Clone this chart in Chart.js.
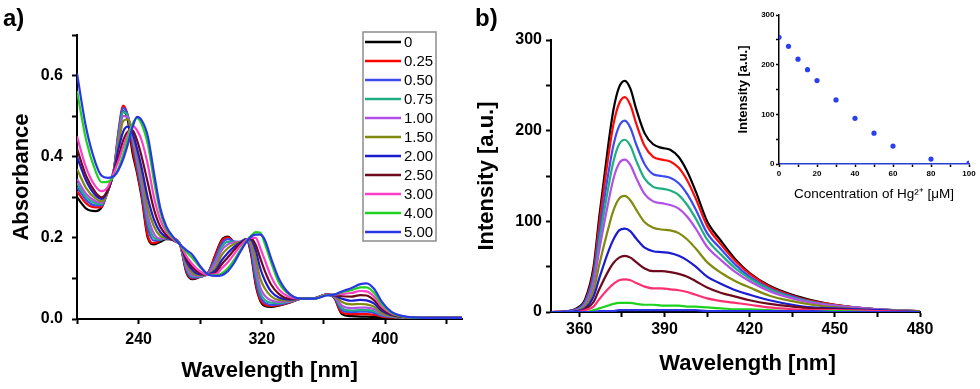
<!DOCTYPE html>
<html>
<head>
<meta charset="utf-8">
<script src="https://cdn.jsdelivr.net/npm/chart.js@4"></script>
<style>
  body { margin: 0; background: #fff; }
  #wrap { position: relative; width: 980px; height: 389px; background: #fff; overflow: hidden; }
  canvas { position: absolute; top: 0; }
  .plabel { position: absolute; top: 6px; font: bold 24px "Liberation Sans", Arial, sans-serif; color: #000; line-height: 1; }
</style>
</head>
<body>
<div id="wrap">
  <canvas id="absChart" width="480" height="389" style="left:0"></canvas>
  <canvas id="emChart" width="510" height="389" style="left:470px"></canvas>
  <canvas id="insetChart" width="255" height="210" style="left:725px"></canvas>
  <div class="plabel" style="left:3px">a)</div>
  <div class="plabel" style="left:475px">b)</div>
</div>
<script>
// Hg2+ equivalents, one curve each
const concLabels = ['0', '0.25', '0.50', '0.75', '1.00', '1.50', '2.00', '2.50', '3.00', '4.00', '5.00'];

// a) absorbance spectra
const absWavelength = [200, 206, 212, 216, 220, 224, 227, 230, 233, 236, 239, 242, 246, 250, 254, 258, 263, 267, 271, 275, 280, 285, 290, 294, 298, 302, 306, 310, 313, 316, 319, 322, 326, 331, 338, 346, 354, 362, 367, 372, 378, 384, 388, 393, 398, 404, 412, 425, 450];
const absC000 = [.300, .272, .266, .275, .315, .368, .455, .512, .490, .410, .360, .300, .200, .184, .190, .197, .196, .183, .115, .098, .104, .113, .160, .195, .203, .190, .187, .197, .160, .085, .045, .032, .030, .033, .040, .050, .050, .060, .052, .012, .007, .006, .006, .005, .004, .003, .003, .002, .002];
const absC025 = [.315, .285, .275, .277, .318, .370, .465, .526, .500, .422, .365, .305, .205, .187, .194, .200, .198, .183, .118, .100, .104, .113, .158, .192, .201, .190, .188, .197, .165, .090, .048, .035, .032, .034, .041, .050, .051, .060, .053, .016, .012, .012, .012, .010, .006, .004, .003, .003, .003];
const absC050 = [.325, .293, .280, .280, .316, .368, .460, .520, .502, .440, .378, .318, .225, .193, .195, .199, .197, .183, .122, .102, .104, .112, .150, .185, .197, .191, .189, .197, .172, .100, .055, .040, .035, .036, .042, .050, .051, .060, .054, .022, .017, .018, .018, .015, .008, .005, .003, .003, .003];
const absC075 = [.335, .300, .285, .283, .315, .368, .450, .510, .500, .448, .388, .328, .240, .200, .196, .199, .196, .183, .126, .105, .105, .111, .143, .177, .190, .190, .190, .197, .180, .115, .065, .047, .040, .039, .043, .050, .051, .060, .055, .027, .021, .022, .022, .019, .010, .006, .004, .003, .003];
const absC100 = [.345, .308, .290, .286, .314, .368, .440, .500, .497, .455, .398, .340, .255, .210, .198, .199, .195, .183, .130, .108, .106, .111, .138, .170, .184, .189, .191, .197, .186, .130, .078, .057, .046, .042, .044, .050, .051, .060, .056, .033, .027, .028, .028, .024, .012, .007, .004, .003, .003];
const absC150 = [.370, .322, .297, .290, .314, .368, .430, .488, .492, .462, .412, .358, .275, .228, .205, .200, .194, .183, .137, .113, .108, .110, .128, .158, .175, .185, .190, .197, .192, .150, .100, .075, .056, .047, .046, .050, .051, .060, .057, .042, .036, .037, .036, .030, .015, .008, .004, .003, .003];
const absC200 = [.400, .340, .305, .296, .316, .365, .420, .462, .474, .458, .420, .372, .298, .245, .215, .202, .193, .183, .143, .120, .110, .110, .120, .145, .163, .178, .188, .197, .196, .170, .125, .095, .068, .053, .048, .050, .051, .060, .058, .050, .045, .047, .046, .038, .020, .010, .005, .003, .003];
const absC250 = [.420, .352, .312, .300, .318, .362, .400, .440, .462, .465, .440, .400, .335, .270, .228, .207, .193, .183, .150, .127, .113, .109, .114, .135, .152, .170, .185, .195, .198, .183, .150, .118, .085, .062, .050, .050, .051, .060, .059, .056, .055, .059, .058, .046, .025, .012, .005, .003, .003];
const absC300 = [.450, .372, .327, .315, .325, .362, .390, .425, .455, .476, .465, .440, .380, .300, .245, .215, .195, .183, .155, .135, .117, .109, .110, .125, .140, .160, .180, .195, .200, .200, .175, .145, .105, .073, .054, .050, .051, .060, .060, .062, .064, .069, .068, .055, .030, .014, .006, .003, .003];
const absC400 = [.562, .440, .365, .337, .338, .352, .372, .405, .445, .480, .495, .480, .430, .340, .265, .222, .198, .183, .165, .150, .127, .110, .107, .112, .125, .145, .170, .192, .205, .214, .213, .185, .140, .090, .060, .050, .050, .059, .060, .066, .071, .078, .078, .064, .036, .016, .006, .003, .003];
const absC500 = [.605, .470, .385, .353, .348, .352, .368, .394, .430, .472, .498, .490, .450, .360, .275, .228, .200, .183, .170, .158, .130, .110, .106, .108, .118, .138, .165, .190, .203, .208, .208, .195, .150, .100, .062, .050, .050, .058, .060, .068, .076, .086, .088, .074, .042, .018, .007, .003, .003];
const absSeries = [absC000, absC025, absC050, absC075, absC100, absC150, absC200, absC250, absC300, absC400, absC500];

// b) emission spectra
const emWavelength = [350, 356, 359, 362, 365, 367, 370, 372, 374, 376, 378, 380, 383, 386, 389, 392, 395, 398, 401, 405, 410, 415, 420, 427, 435, 442, 450, 465, 480];
const emC000 = [0, 1, 4, 14, 50, 105, 180, 223, 248, 255, 246, 224, 197, 185, 181, 179, 171, 155, 133, 100, 78, 58, 43, 29, 19, 13, 8, 3, 1];
const emC025 = [0, 1, 3, 12, 45, 97, 167, 207, 230, 237, 228, 208, 183, 171, 168, 166, 159, 145, 125, 95, 74, 56, 42, 28, 18, 12, 8, 3, 1];
const emC050 = [0, 1, 3, 11, 40, 86, 149, 184, 205, 211, 203, 185, 163, 152, 150, 148, 142, 130, 113, 87, 69, 52, 39, 26, 17, 11, 7, 3, 1];
const emC075 = [0, 0, 2, 9, 35, 77, 134, 166, 185, 190, 183, 167, 147, 138, 136, 134, 129, 118, 103, 80, 63, 48, 37, 25, 16, 11, 7, 3, 1];
const emC100 = [0, 0, 2, 8, 31, 68, 118, 147, 164, 168, 162, 148, 130, 122, 120, 118, 114, 105, 92, 72, 57, 44, 34, 23, 15, 10, 7, 3, 1];
const emC150 = [0, 0, 1, 6, 23, 52, 90, 112, 125, 128, 123, 113, 99, 93, 91, 90, 87, 80, 70, 55, 43, 34, 27, 18, 12, 8, 5, 2, 1];
const emC200 = [0, 0, 1, 4, 17, 37, 65, 80, 90, 92, 89, 81, 71, 67, 66, 65, 62, 57, 50, 39, 31, 24, 19, 13, 8, 5, 4, 2, 0];
const emC250 = [0, 0, 0, 3, 11, 25, 44, 54, 60, 62, 60, 55, 48, 45, 45, 44, 42, 39, 34, 27, 21, 17, 13, 9, 6, 4, 3, 1, 0];
const emC300 = [0, 0, 0, 2, 6, 14, 25, 31, 35, 36, 35, 32, 28, 26, 26, 25, 24, 22, 19, 15, 12, 10, 8, 5, 3, 2, 2, 1, 0];
const emC400 = [0, 0, 0, 0, 2, 4, 7, 9, 10, 10, 10, 9, 8, 8, 7, 7, 7, 6, 6, 5, 4, 3, 3, 2, 1, 1, 1, 0, 0];
const emC500 = [0, 0, 0, 0, 0, 1, 1, 1, 2, 2, 2, 2, 2, 2, 2, 2, 2, 2, 2, 1, 1, 1, 1, 1, 1, 1, 0, 0, 0];
const emSeries = [emC000, emC025, emC050, emC075, emC100, emC150, emC200, emC250, emC300, emC400, emC500];

// inset: peak intensity vs Hg2+ concentration
const hgConc = [0, 5, 10, 15, 20, 30, 40, 50, 60, 80, 100];
const hgIntensity = [255, 237, 211, 190, 168, 129, 92, 62, 36, 10, 2];

// tick positions and which ones carry a label
const absXTicks = [200, 240, 280, 320, 360, 400, 440];
const absXLabeled = [240, 320, 400];
const absYTicks = [0, 0.1, 0.2, 0.3, 0.4, 0.5, 0.6, 0.7];
const absYLabeled = [0, 0.2, 0.4, 0.6];
const emXTicks = [360, 375, 390, 405, 420, 435, 450, 465, 480];
const emXLabeled = [360, 390, 420, 450, 480];
const emYTicks = [0, 50, 100, 150, 200, 250, 300];
const emYLabeled = [0, 100, 200, 300];
const inXTicks = [0, 10, 20, 30, 40, 50, 60, 70, 80, 90, 100];
const inXLabeled = [0, 20, 40, 60, 80, 100];
const inYTicks = [0, 50, 100, 150, 200, 250, 300];
const inYLabeled = [0, 100, 200, 300];

const absColors = ['#000000', '#ff0000', '#3b4bf0', '#1fae82', '#b24fe6', '#7f8a0e', '#1b1bd0', '#6e0a1e', '#ff3dc8', '#1fd21f', '#2a36e6'];
const emColors = ['#000000', '#ff0a0a', '#3b4bf0', '#1fae82', '#b24fe6', '#7f8a0e', '#1b1bd0', '#6e0a1e', '#ff3070', '#1fd21f', '#2a36e6'];

const FONT = '"Liberation Sans", Arial, Helvetica, sans-serif';

// one axis in the Origin look: outward ticks, only some ticks labelled
function axis(o) {
    return {
        type: 'linear',
        min: o.min,
        max: o.max,
        afterBuildTicks: s => { s.ticks = o.ticks.map(v => ({ value: v })); },
        afterFit: s => { if (o.horizontal) s.height = o.box; else s.width = o.box; },
        border: { display: true, color: o.borderColor || '#000', width: o.lw || 2 },
        grid: { display: true, drawOnChartArea: false, drawTicks: true, tickLength: o.tl, tickWidth: o.lw || 2, tickColor: '#000' },
        ticks: {
            autoSkip: false, maxRotation: 0, padding: o.pad, color: '#000',
            font: { family: FONT, size: o.size, weight: 'bold' },
            callback: v => o.labeled.includes(v) ? o.fmt(v) : ''
        },
        title: {
            display: o.title !== null, text: o.title || '', color: '#000',
            font: { family: FONT, size: o.titleSize, weight: o.titleWeight || 'bold' },
            padding: o.titlePad
        }
    };
}

function lineSets(xs, series, colors) {
    const n = series.length;
    return series.map((vals, i) => ({
        label: concLabels[i],
        data: xs.map((x, j) => ({ x: x, y: vals[j] })),
        borderColor: colors[i],
        backgroundColor: colors[i],
        borderWidth: 2.2,
        pointRadius: 0,
        cubicInterpolationMode: 'monotone',
        fill: false,
        order: n - i
    }));
}

// legend box drawn inside panel a
const legendBox = {
    id: 'legendBox',
    afterDraw(chart) {
        const ctx = chart.ctx;
        const x0 = 363, y0 = 32, w = 73, h = 209, step = 19;
        ctx.save();
        ctx.fillStyle = '#fff';
        ctx.fillRect(x0, y0, w, h);
        ctx.strokeStyle = '#8c8c8c';
        ctx.lineWidth = 1.5;
        ctx.strokeRect(x0, y0, w, h);
        ctx.font = '15px ' + FONT;
        ctx.textBaseline = 'middle';
        chart.data.datasets.forEach((ds, i) => {
            const y = y0 + 10 + i * step;
            ctx.strokeStyle = ds.borderColor;
            ctx.lineWidth = 2.5;
            ctx.beginPath();
            ctx.moveTo(x0 + 2, y);
            ctx.lineTo(x0 + 38, y);
            ctx.stroke();
            ctx.fillStyle = '#000';
            ctx.fillText(ds.label, x0 + 41, y + 1);
        });
        ctx.restore();
    }
};

// x title of panel b sits a little right of the plot centre in the original
const offsetTitle = {
    id: 'offsetTitle',
    afterDraw(chart, args, opts) {
        const { ctx, chartArea } = chart;
        ctx.save();
        ctx.font = 'bold 22px ' + FONT;
        ctx.fillStyle = '#000';
        ctx.textAlign = 'center';
        ctx.textBaseline = 'middle';
        ctx.fillText(opts.text, (chartArea.left + chartArea.right) / 2 + opts.dx, opts.y);
        ctx.restore();
    }
};

const common = {
    responsive: false,
    animation: false,
    events: [],
    plugins: { legend: { display: false }, tooltip: { enabled: false } }
};

new Chart(document.getElementById('absChart'), {
    type: 'line',
    data: { datasets: lineSets(absWavelength, absSeries, absColors) },
    options: Object.assign({}, common, {
        layout: { padding: { top: 35, right: 18, left: 0, bottom: 0 } },
        scales: {
            x: axis({ horizontal: true, min: 200, max: 450, ticks: absXTicks, labeled: absXLabeled, fmt: v => String(v),
                box: 70, tl: 5, pad: 6, size: 16, title: 'Wavelength [nm]', titleSize: 22, titlePad: { top: 0, bottom: 5 } }),
            y: axis({ min: 0, max: 0.7, ticks: absYTicks, labeled: absYLabeled, fmt: v => v.toFixed(1),
                box: 77, tl: 5, pad: 9, size: 16, title: 'Absorbance', titleSize: 22, titlePad: { top: 9, bottom: 0 } })
        }
    }),
    plugins: [legendBox]
});

new Chart(document.getElementById('emChart'), {
    type: 'line',
    data: { datasets: lineSets(emWavelength, emSeries, emColors) },
    options: Object.assign({}, common, {
        layout: { padding: { top: 40, right: 60, left: 0, bottom: 0 } },
        plugins: {
            legend: { display: false },
            tooltip: { enabled: false },
            offsetTitle: { text: 'Wavelength [nm]', dx: 12, y: 364 }
        },
        scales: {
            x: axis({ horizontal: true, min: 350, max: 480, ticks: emXTicks, labeled: emXLabeled, fmt: v => String(v),
                box: 77, tl: 5, pad: 3, size: 16, title: null, titleSize: 22, titlePad: 0 }),
            y: axis({ min: 0, max: 300, ticks: emYTicks, labeled: emYLabeled, fmt: v => String(v),
                box: 81, tl: 5, pad: 4, size: 16, title: 'Intensity [a.u.]', titleSize: 22, titlePad: { top: 4, bottom: 0 } })
        }
    }),
    plugins: [offsetTitle]
});

new Chart(document.getElementById('insetChart'), {
    type: 'scatter',
    data: {
        datasets: [{
            label: 'Intensity',
            data: hgConc.map((c, i) => ({ x: c, y: hgIntensity[i] })),
            showLine: false,
            pointRadius: 2.6,
            pointBorderWidth: 0,
            backgroundColor: '#2a40f0',
            borderColor: '#2a40f0'
        }]
    },
    options: Object.assign({}, common, {
        layout: { padding: { top: 15, right: 11, left: 0, bottom: 0 } },
        scales: {
            x: axis({ horizontal: true, min: 0, max: 100, ticks: inXTicks, labeled: inXLabeled, fmt: v => String(v),
                box: 46, tl: 3, pad: 2, lw: 1.5, borderColor: '#2a3fd0', size: 8, title: 'Concentration of Hg²⁺ [μM]',
                titleSize: 13.5, titleWeight: 'normal', titlePad: { top: 0, bottom: 8 } }),
            y: axis({ min: 0, max: 300, ticks: inYTicks, labeled: inYLabeled, fmt: v => String(v),
                box: 54, tl: 3, pad: 1.5, lw: 1.5, size: 8, title: 'Intensity [a.u.]', titleSize: 13, titlePad: { top: 11, bottom: 0 } })
        }
    })
});
</script>
</body>
</html>
